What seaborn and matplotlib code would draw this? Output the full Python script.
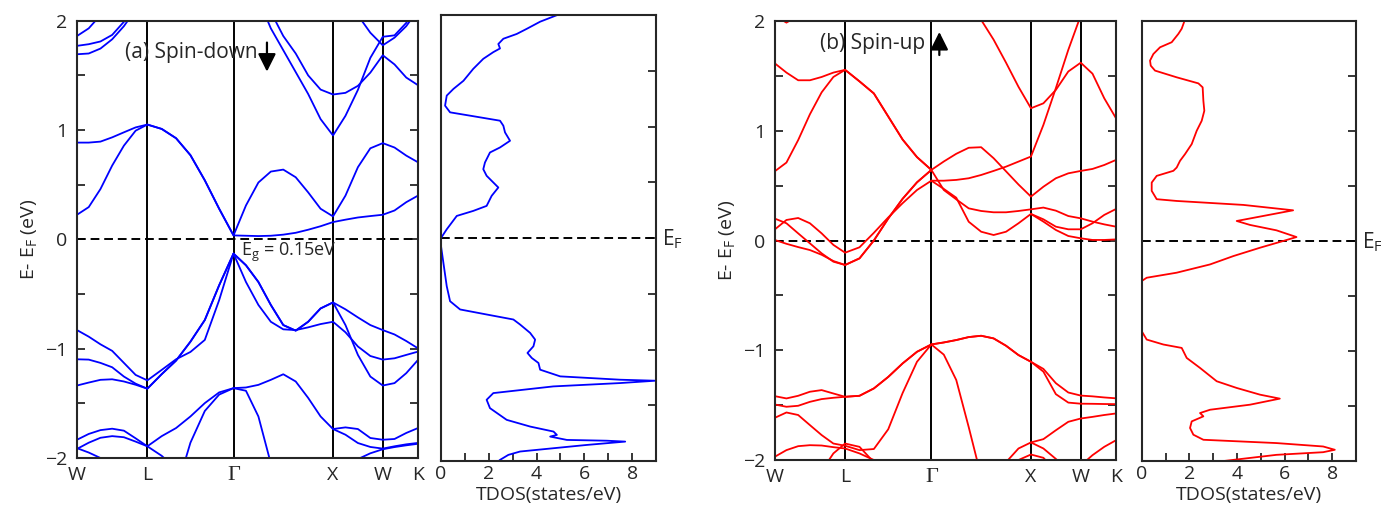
import numpy as np
import pandas as pd
import matplotlib
matplotlib.use("Agg")
import matplotlib.pyplot as plt
from matplotlib.transforms import blended_transform_factory
import seaborn as sns

N = None  # band leaves the plotted window / not drawn on this segment

# High-symmetry path W-L-G-X-W-K: segment lengths (2pi/a) and k-points read per segment
sym_labels = ["W", "L", "Γ", "X", "W", "K"]
seg_lengths = [0.707, 0.866, 1.0, 0.5, 0.354]
seg_points = [6, 6, 8, 4, 3]

# ---- spin-down bands (eV), one row per segment: W-L | L-G | G-X | X-W | W-K ----
dn_c1 = [0.225, 0.295, 0.46, 0.675, 0.857, 0.994, 1.05,
         1.01, 0.925, 0.77, 0.54, 0.28, 0.036,
         0.033, 0.03, 0.033, 0.043, 0.06, 0.088, 0.12, 0.158,
         0.18, 0.20, 0.213, 0.225,
         0.264, 0.34, 0.40]
dn_c2 = [0.885, 0.885, 0.894, 0.933, 0.979, 1.024, 1.05,
         1.01, 0.925, 0.77, 0.54, 0.28, 0.036,
         0.31, 0.52, 0.62, 0.638, 0.568, 0.43, 0.28, 0.21,
         0.40, 0.66, 0.833, 0.88,
         0.84, 0.766, 0.705]
dn_c3 = [N, N, N, N, N, N, N,
         N, N, N, N, N, N,
         2.45, 2.2, 1.93, 1.73, 1.53, 1.33, 1.10, 0.95,
         1.13, 1.367, 1.66, 1.853,
         1.866, 1.98, 2.15]
dn_c4 = [N, N, N, N, N, N, N,
         N, N, N, N, N, N,
         2.6, 2.35, 2.08, 1.86, 1.70, 1.50, 1.37, 1.325,
         1.34, 1.404, 1.525, 1.684,
         1.60, 1.48, 1.41]
dn_c5 = [N, N, N, N, N, N, N,
         N, N, N, N, N, N,
         N, N, N, N, N, N, N, N,
         N, 2.05, 1.89, 1.775,
         1.845, 1.95, 2.1]
dn_c6 = [1.86, 1.93, 2.05, N, N, N, N,
         N, N, N, N, N, N,
         N, N, N, N, N, N, N, N,
         N, N, N, N,
         N, N, N]
dn_c7 = [1.77, 1.785, 1.81, 1.87, 1.99, 2.1, N,
         N, N, N, N, N, N,
         N, N, N, N, N, N, N, N,
         N, N, N, N,
         N, N, N]
dn_c8 = [1.693, 1.70, 1.745, 1.83, 1.95, 2.1, N,
         N, N, N, N, N, N,
         N, N, N, N, N, N, N, N,
         N, N, N, N,
         N, N, N]
dn_v1 = [-0.83, -0.89, -0.96, -1.02, -1.13, -1.24, -1.29,
         -1.194, -1.097, -1.03, -0.92, -0.556, -0.13,
         -0.237, -0.39, -0.60, -0.784, -0.835, -0.754, -0.632, -0.577,
         -0.64, -0.714, -0.784, -0.83,
         -0.87, -0.93, -0.997]
dn_v2 = [-1.097, -1.10, -1.13, -1.17, -1.255, -1.32, -1.366,
         -1.233, -1.109, -0.936, -0.738, -0.42, -0.13,
         -0.39, -0.60, -0.754, -0.823, -0.83, -0.805, -0.775, -0.754,
         -0.85, -0.98, -1.067, -1.10,
         -1.088, -1.057, -1.027]
dn_v3 = [-1.337, -1.31, -1.285, -1.28, -1.30, -1.33, -1.366,
         -1.233, -1.109, -0.936, -0.738, -0.42, -0.13,
         -0.237, -0.39, -0.60, -0.784, -0.835, -0.754, -0.632, -0.577,
         -0.784, -1.057, -1.255, -1.337,
         -1.315, -1.224, -1.103]
dn_v4 = [-1.833, -1.78, -1.745, -1.732, -1.75, -1.82, -1.893,
         -1.80, -1.726, -1.62, -1.498, -1.40, -1.361,
         -1.355, -1.331, -1.285, -1.234, -1.30, -1.45, -1.62, -1.735,
         -1.72, -1.735, -1.817, -1.833,
         -1.826, -1.771, -1.726]
dn_v5 = [N, N, N, N, N, N, N,
         N, -2.3, -1.86, -1.57, -1.42, -1.361,
         -1.385, -1.62, -2.05, -2.5, N, N, N, N,
         N, N, N, N,
         N, N, N]
dn_v6 = [N, N, N, N, N, N, N,
         N, N, N, N, N, N,
         N, N, N, N, N, N, N, -1.735,
         -1.787, -1.863, -1.899, -1.914,
         -1.893, -1.875, -1.862]
dn_v7 = [N, N, N, N, N, N, N,
         N, N, N, N, N, N,
         N, N, N, N, N, N, N, N,
         -2.15, -2.01, -1.957, -1.92,
         -1.90, -1.884, -1.87]
dn_v8 = [-1.917, -1.86, -1.815, -1.80, -1.81, -1.85, -1.893,
         -1.98, -2.1, N, N, N, N,
         N, N, N, N, N, N, N, N,
         N, N, N, N,
         N, N, N]
dn_v9 = [-1.91, -1.95, -2.0, -2.1, N, N, N,
         N, N, N, N, N, N,
         N, N, N, N, N, N, N, N,
         N, N, N, N,
         N, N, N]

# ---- spin-up bands (eV) ----
up_c1 = [1.615, 1.53, 1.46, 1.46, 1.49, 1.53, 1.555,
         1.45, 1.34, 1.13, 0.92, 0.76, 0.643,
         0.72, 0.79, 0.845, 0.85, 0.75, 0.63, 0.51, 0.40,
         0.49, 0.567, 0.612, 0.634,
         0.652, 0.688, 0.734]
up_c2 = [0.63, 0.71, 0.915, 1.15, 1.35, 1.49, 1.555,
         1.45, 1.34, 1.13, 0.92, 0.76, 0.643,
         0.46, 0.375, 0.293, 0.269, 0.257, 0.257, 0.269, 0.284,
         0.30, 0.272, 0.223, 0.202,
         0.172, 0.147, 0.126]
up_c3 = [0.20, 0.157, 0.065, -0.026, -0.117, -0.193, -0.223,
         -0.163, 0.0, 0.20, 0.38, 0.53, 0.643,
         N, N, N, N, N, N, N, N,
         N, N, N, N,
         N, N, N]
up_c4 = [0.10, 0.187, 0.205, 0.157, 0.065, -0.04, -0.111,
         -0.062, 0.07, 0.21, 0.34, 0.46, 0.545,
         0.545, 0.552, 0.567, 0.597, 0.634, 0.673, 0.719, 0.765,
         1.053, 1.388, 1.737, 2.05,
         2.4, N, N]
up_c5 = [0.005, -0.03, -0.06, -0.087, -0.13, -0.187, -0.223,
         -0.163, 0.0, 0.20, 0.38, 0.53, 0.643,
         N, N, N, N, N, N, N, N,
         N, N, N, N,
         N, N, N]
up_c6 = [N, N, N, N, N, N, N,
         N, N, N, N, N, 0.545,
         0.47, 0.39, 0.171, 0.08, 0.05, 0.08, 0.157, 0.242,
         0.193, 0.126, 0.102, 0.102,
         0.157, 0.233, 0.287]
up_c7 = [N, N, N, N, N, N, N,
         N, N, N, N, N, N,
         N, N, N, N, N, N, N, 0.242,
         0.172, 0.096, 0.041, 0.02,
         0.005, 0.005, 0.01]
up_c8 = [N, N, N, N, N, N, N,
         N, N, N, N, N, N,
         N, 2.4, 2.2, 2.01, 1.83, 1.62, 1.40, 1.205,
         1.25, 1.372, 1.54, 1.62,
         1.52, 1.296, 1.114]
up_c9 = [2.05, 1.985, 2.05, N, N, N, N,
         N, N, N, N, N, N,
         N, N, N, N, N, N, N, N,
         N, N, N, N,
         N, N, N]
up_v1 = [-1.418, -1.439, -1.415, -1.378, -1.363, -1.394, -1.424,
         -1.415, -1.348, -1.243, -1.12, -1.014, -0.947,
         -0.929, -0.907, -0.88, -0.868, -0.892, -0.959, -1.044, -1.105,
         -1.17, -1.30, -1.385, -1.413,
         -1.42, -1.43, -1.438]
up_v2 = [-1.494, -1.515, -1.506, -1.47, -1.445, -1.433, -1.424,
         -1.415, -1.348, -1.243, -1.12, -1.014, -0.947,
         -0.929, -0.907, -0.88, -0.868, -0.892, -0.959, -1.044, -1.105,
         -1.195, -1.40, -1.477, -1.487,
         -1.488, -1.49, -1.491]
up_v3 = [-1.616, -1.567, -1.59, -1.682, -1.773, -1.85, -1.87,
         -1.91, -1.90, -1.72, -1.39, -1.105, -0.947,
         -1.04, -1.271, -1.70, -2.15, N, N, N, N,
         N, N, N, N,
         N, N, N]
up_v4 = [N, N, N, N, N, N, N,
         N, N, N, N, N, N,
         N, N, N, N, N, -2.02, -1.895, -1.84,
         -1.81, -1.729, -1.652, -1.622,
         -1.607, -1.59, -1.576]
up_v5 = [N, N, N, N, N, N, N,
         N, N, N, N, N, N,
         N, N, N, N, N, N, N, -1.84,
         -1.895, -1.99, -2.1, N,
         N, N, N]
up_v6 = [N, N, N, N, N, N, N,
         N, N, N, N, N, N,
         N, N, N, N, N, N, -2.0, -1.95,
         -1.98, -2.1, N, N,
         N, N, N]
up_v7 = [N, N, N, N, N, N, N,
         N, N, N, N, N, N,
         N, N, N, N, N, N, N, N,
         N, N, N, -2.05,
         -1.956, -1.88, -1.82]
up_v8 = [N, N, N, N, -2.1, -1.94, -1.85,
         -1.88, -2.02, -2.2, N, N, N,
         N, N, N, N, N, N, N, N,
         N, N, N, N,
         N, N, N]
up_v9 = [-1.971, -1.91, -1.874, -1.865, -1.868, -1.883, -1.895,
         -1.94, -2.0, -2.1, N, N, N,
         N, N, N, N, N, N, N, N,
         N, N, N, N,
         N, N, N]

# ---- total DOS (states/eV) against energy (eV) ----
dos_dn_e = [2.01, 1.94, 1.876, 1.83, 1.787, 1.74, 1.70, 1.667, 1.607, 1.517,
            1.41, 1.337, 1.277, 1.187, 1.127, 1.097, 1.052, 1.007, 0.947, 0.872,
            0.812, 0.767, 0.677, 0.617, 0.558, 0.498, 0.453, 0.378, 0.288, 0.243,
            0.198, 0.078, 0.0, -0.072, -0.222, -0.432, -0.567, -0.641, -0.686, -0.731,
            -0.776, -0.851, -0.911, -0.971, -1.031, -1.076, -1.121, -1.181, -1.241, -1.271,
            -1.28, -1.301, -1.331, -1.391, -1.451, -1.526, -1.631, -1.691, -1.736, -1.766,
            -1.781, -1.811, -1.818, -1.826, -1.856, -1.915, -1.945, -1.99, -2.02]
dos_dn = [4.99, 4.15, 3.59, 3.17, 2.61, 2.40, 2.47, 2.19, 1.77, 1.35,
          0.94, 0.52, 0.24, 0.17, 0.38, 1.22, 2.47, 2.61, 2.68, 2.89,
          2.47, 2.05, 1.84, 1.77, 1.91, 2.19, 2.40, 2.12, 1.91, 1.35,
          0.66, 0.24, 0.0, 0.0, 0.10, 0.24, 0.38, 0.80, 1.91, 3.03,
          3.31, 3.73, 3.94, 3.87, 3.62, 3.80, 4.08, 4.15, 4.99, 7.50,
          8.97, 7.50, 4.70, 2.19, 1.91, 2.05, 2.75, 3.73, 4.71, 4.85,
          4.57, 5.27, 6.94, 7.71, 6.10, 3.31, 2.82, 2.47, 2.30]
dos_up_e = [1.99, 1.93, 1.883, 1.807, 1.761, 1.70, 1.64, 1.594, 1.549, 1.488,
            1.433, 1.397, 1.275, 1.184, 1.093, 1.002, 0.881, 0.79, 0.729, 0.668,
            0.638, 0.592, 0.531, 0.456, 0.38, 0.364, 0.328, 0.279, 0.182, 0.146,
            0.097, 0.036, 0.0, -0.061, -0.137, -0.213, -0.288, -0.334, -0.364, -0.82,
            -0.896, -0.941, -0.972, -1.063, -1.154, -1.275, -1.336, -1.397, -1.433, -1.488,
            -1.534, -1.564, -1.594, -1.64, -1.70, -1.761, -1.807, -1.837, -1.868, -1.898,
            -1.92, -1.944, -2.004]
dos_up = [1.78, 1.68, 1.54, 1.26, 0.77, 0.49, 0.35, 0.38, 0.56, 1.47,
          2.38, 2.56, 2.59, 2.63, 2.52, 2.31, 2.10, 1.82, 1.61, 1.47,
          1.33, 0.63, 0.42, 0.42, 0.63, 1.47, 4.27, 6.36, 3.99, 4.55,
          5.66, 6.50, 5.94, 4.97, 3.85, 2.87, 1.47, 0.21, 0.0, 0.0,
          0.21, 0.91, 1.68, 1.89, 2.45, 3.15, 3.99, 4.97, 5.80, 4.55,
          2.87, 2.45, 2.59, 2.10, 2.03, 2.17, 2.59, 5.66, 7.62, 8.11,
          7.62, 5.66, 3.29]

down_bands = {"c1": dn_c1, "c2": dn_c2, "c3": dn_c3, "c4": dn_c4, "c5": dn_c5,
              "c6": dn_c6, "c7": dn_c7, "c8": dn_c8, "v1": dn_v1, "v2": dn_v2,
              "v3": dn_v3, "v4": dn_v4, "v5": dn_v5, "v6": dn_v6, "v7": dn_v7,
              "v8": dn_v8, "v9": dn_v9}
up_bands = {"c1": up_c1, "c2": up_c2, "c3": up_c3, "c4": up_c4, "c5": up_c5,
            "c6": up_c6, "c7": up_c7, "c8": up_c8, "c9": up_c9, "v1": up_v1,
            "v2": up_v2, "v3": up_v3, "v4": up_v4, "v5": up_v5, "v6": up_v6,
            "v7": up_v7, "v8": up_v8, "v9": up_v9}

sym_k = np.concatenate([[0.0], np.cumsum(seg_lengths)])
k_grid = np.concatenate([np.linspace(a, b, n, endpoint=False)
                         for a, b, n in zip(sym_k[:-1], sym_k[1:], seg_points)] + [[sym_k[-1]]])


def band_frame(bands):
    parts = []
    for name, energies in bands.items():
        e = np.array(energies, dtype=float)
        keep = ~np.isnan(e)
        parts.append(pd.DataFrame({"band": name, "k": k_grid[keep], "E": e[keep]}))
    return pd.concat(parts, ignore_index=True)


sns.set_style("ticks")
plt.rcParams["font.family"] = ["Open Sans", "DejaVu Sans"]
plt.rcParams["mathtext.fontset"] = "custom"
plt.rcParams["mathtext.rm"] = "Open Sans"
plt.rcParams["mathtext.it"] = "Open Sans:italic"
plt.rcParams["axes.linewidth"] = 1.5

W, H = 1381, 518
fig = plt.figure(figsize=(W / 100, H / 100), dpi=100)


def px_axes(left, top, right, bottom):
    return fig.add_axes([left / W, 1 - bottom / H, (right - left) / W, (bottom - top) / H])


def style_bands(ax):
    ax.set_xlim(0, sym_k[-1])
    ax.set_ylim(-2, 2)
    for k in sym_k[1:-1]:
        ax.axvline(k, color="k", lw=1.4, zorder=1)
    ax.axhline(0, color="k", ls=(0, (4.5, 2.5)), lw=1.4, zorder=1)
    ax.set_xticks(sym_k, sym_labels)
    ax.tick_params(axis="x", length=0, pad=6, labelsize=14)
    for lbl in ax.get_xticklabels():
        if lbl.get_text() == "Γ":
            lbl.set_fontfamily("Liberation Serif")
            lbl.set_fontsize(16)
    ax.set_yticks([-2, -1, 0, 1, 2])
    ax.set_yticks([-1.5, -0.5, 0.5, 1.5], minor=True)
    ax.tick_params(axis="y", which="both", direction="in", left=True, right=True,
                   length=6, width=1.3, labelsize=14, pad=7)
    ax.set_xlabel("")
    ax.set_ylabel(r"E- E$_\mathrm{F}$ (eV)", fontsize=14, labelpad=4)


def style_dos(ax):
    ax.set_xlim(0, 9)
    ax.set_ylim(-2, 2)
    ax.axhline(0, color="k", ls=(0, (4.5, 2.5)), lw=1.4, zorder=1)
    ax.set_xticks([0, 2, 4, 6, 8])
    ax.set_xticks([1, 3, 5, 7], minor=True)
    ax.tick_params(axis="x", which="both", direction="in", length=6, width=1.3,
                   labelsize=14, pad=3, top=False)
    ax.set_yticks([-1.5, -1, -0.5, 0, 0.5, 1, 1.5])
    ax.tick_params(axis="y", which="both", direction="in", left=False, right=True,
                   length=6, width=1.3, labelleft=False)
    ax.set_xlabel("TDOS(states/eV)", fontsize=14, labelpad=2)
    ax.set_ylabel("")
    tr = blended_transform_factory(ax.transAxes, ax.transData)
    ax.text(1.027, -0.065, r"E$_\mathrm{F}$", transform=tr, fontsize=15, va="baseline")


panels = [
    (down_bands, dos_dn_e, dos_dn, "#0000ff", (77, 20.7, 418, 458), (441, 15, 656, 461)),
    (up_bands, dos_up_e, dos_up, "#ff0000", (774.7, 21, 1116, 460), (1141.7, 21, 1356, 461)),
]
band_axes = []
for bands, de, dv, color, bbox_b, bbox_d in panels:
    axb = px_axes(*bbox_b)
    sns.lineplot(data=band_frame(bands), x="k", y="E", units="band", estimator=None,
                 sort=False, color=color, lw=1.3, legend=False, ax=axb)
    style_bands(axb)
    band_axes.append(axb)

    axd = px_axes(*bbox_d)
    sns.lineplot(x=dv, y=de, sort=False, estimator=None, color=color, lw=1.3, ax=axd)
    style_dos(axd)

ax_a, ax_b = band_axes
arrow = dict(arrowstyle="-|>,head_length=0.9,head_width=0.45", color="k",
             lw=1.6, mutation_scale=12, shrinkA=0, shrinkB=0)
ax_a.text(0.482, 1.707, "(a) Spin-down", fontsize=15, va="center")
ax_a.annotate("", xy=(1.909, 1.534), xytext=(1.909, 1.80), arrowprops=arrow)
ax_a.text(1.645, -0.12, r"E$_\mathrm{g}$ = 0.15eV", fontsize=13, va="center")

ax_b.text(0.455, 1.797, "(b) Spin-up", fontsize=15, va="center")
ax_b.annotate("", xy=(1.653, 1.90), xytext=(1.653, 1.69), arrowprops=arrow)

fig.savefig("out.png", dpi=100)
